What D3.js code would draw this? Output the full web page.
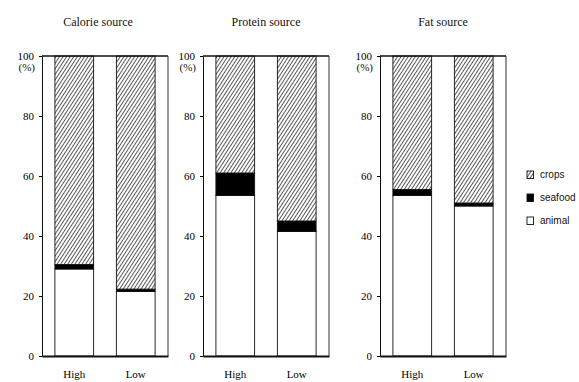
<!DOCTYPE html>
<html lang="en">
<head>
    <meta charset="UTF-8">
    <title>Calorie, protein and fat source</title>
    <script src="https://d3js.org/d3.v7.min.js"></script>
    <style>
        body { margin: 0; background: #fff; }
        .title { font-family: "Liberation Serif", serif; font-size: 12px; fill: #111; }
        .legend text { font-family: "Liberation Sans", Arial, sans-serif; font-size: 10px; fill: #111; }
    </style>
</head>
<body>
<svg width="579" height="382"></svg>
<script>
    // data (percent)
    var panels = ["Calorie source", "Protein source", "Fat source"];
    var categories = ["High", "Low"];
    var animal  = [[29, 21.5], [53.5, 41.5], [53.5, 50]];
    var seafood = [[1.5, 0.8], [7.5, 3.5], [2, 1]];
    var crops   = [[69.5, 77.7], [39, 55], [44.5, 49]];
    var yTicks = [0, 20, 40, 60, 80, 100];
    var legendItems = ["crops", "seafood", "animal"];

    var configuration = {
        "panel_left": [42, 203, 380],
        "plot_width": 126,
        "plot_top": 56,
        "plot_bottom": 356,
        "title_y": 26,
        "serif": "'Liberation Serif', 'DejaVu Serif', serif"
    };

    var svg = d3.select("svg");

    var defs = svg.append("defs");
    var pat = defs.append("pattern")
        .attr("id", "hatch")
        .attr("patternUnits", "userSpaceOnUse")
        .attr("width", 3).attr("height", 3)
        .attr("patternTransform", "rotate(33)");
    pat.append("rect").attr("width", 3).attr("height", 3).attr("fill", "#fff");
    pat.append("line")
        .attr("x1", 0).attr("y1", 0).attr("x2", 0).attr("y2", 3)
        .attr("stroke", "#222").attr("stroke-width", 1.5);

    var fills = {"animal": "#fff", "seafood": "#000", "crops": "url(#hatch)"};

    var yScale = d3.scaleLinear()
        .domain([0, 100])
        .range([configuration.plot_bottom, configuration.plot_top]);

    var xScale = d3.scaleBand()
        .domain(categories)
        .range([0, configuration.plot_width])
        .paddingInner(0.37)
        .paddingOuter(0.21);

    panels.forEach(function (name, p) {
        var g = svg.append("g")
            .attr("transform", "translate(" + configuration.panel_left[p] + ",0)");

        // bars
        categories.forEach(function (cat, i) {
            var stack = [
                {key: "animal", v: animal[p][i]},
                {key: "seafood", v: seafood[p][i]},
                {key: "crops", v: crops[p][i]}
            ];
            var base = 0;
            stack.forEach(function (s) {
                g.append("rect")
                    .attr("x", xScale(cat))
                    .attr("width", xScale.bandwidth())
                    .attr("y", yScale(base + s.v))
                    .attr("height", yScale(base) - yScale(base + s.v))
                    .attr("fill", fills[s.key])
                    .attr("stroke", "#111")
                    .attr("stroke-width", 0.9);
                base += s.v;
            });
        });

        // frame: top + right
        g.append("line")
            .attr("x1", 0).attr("x2", configuration.plot_width)
            .attr("y1", yScale(100)).attr("y2", yScale(100))
            .attr("stroke", "#111").attr("stroke-width", 1.5);
        g.append("line")
            .attr("x1", configuration.plot_width).attr("x2", configuration.plot_width)
            .attr("y1", yScale(100)).attr("y2", yScale(0))
            .attr("stroke", "#333").attr("stroke-width", 1);

        // y axis
        var ya = g.append("g")
            .call(d3.axisLeft(yScale).tickValues(yTicks).tickSize(3).tickPadding(5))
            .attr("font-family", configuration.serif)
            .attr("font-size", 11);
        ya.select(".domain").attr("stroke", "#111");
        ya.append("text")
            .attr("x", -7).attr("y", yScale(100) + 15)
            .attr("fill", "#111")
            .attr("text-anchor", "end")
            .text("(%)");

        // bottom axis
        var xa = g.append("g")
            .attr("transform", "translate(0," + configuration.plot_bottom + ")")
            .call(d3.axisBottom(xScale).tickSize(0).tickPadding(14))
            .attr("font-family", configuration.serif)
            .attr("font-size", 11);
        xa.select(".domain").attr("stroke", "#111").attr("stroke-width", 2.2);

        g.append("text")
            .attr("class", "title")
            .attr("x", configuration.plot_width / 2 - (p === 0 ? 7 : 0))
            .attr("y", configuration.title_y)
            .attr("text-anchor", "middle")
            .text(name);
    });

    // legend
    var legend = svg.append("g").attr("class", "legend")
        .attr("transform", "translate(527,171)");
    legendItems.forEach(function (k, i) {
        var row = legend.append("g").attr("transform", "translate(0," + (i * 23) + ")");
        row.append("rect")
            .attr("width", 6.5).attr("height", 7.5)
            .attr("fill", fills[k])
            .attr("stroke", "#111").attr("stroke-width", 0.9);
        row.append("text")
            .attr("x", 13).attr("y", 7)
            .text(k);
    });
</script>
</body>
</html>
